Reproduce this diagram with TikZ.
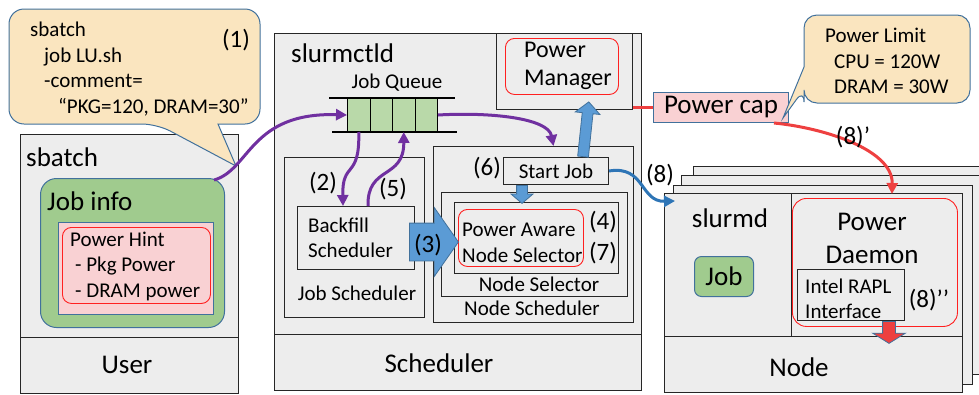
\documentclass[tikz,border=0pt]{standalone}
\usepackage{fontspec}
\setmainfont{Carlito}
\usetikzlibrary{arrows.meta,shapes.arrows}
\definecolor{boxgray}{HTML}{EDEDED}
\definecolor{jobgreen}{HTML}{A0CB8E}
\definecolor{queuegreen}{HTML}{B9D9A9}
\definecolor{hintpink}{HTML}{F9D1D3}
\definecolor{notetan}{HTML}{FAE5BF}
\definecolor{edgeblue}{HTML}{41719C}
\definecolor{arrowblue}{HTML}{5B9BD5}
\definecolor{linkblue}{HTML}{2E75B6}
\definecolor{flowpurple}{HTML}{7030A0}
\definecolor{capred}{HTML}{EE4040}
\definecolor{framered}{HTML}{FF2020}
\newcommand{\medtext}{\fontsize{21}{25.5}\selectfont}
\newcommand{\bigtext}{\fontsize{27}{33}\selectfont}
\newcommand{\mgrtext}{\fontsize{24}{28}\selectfont}
\newcommand{\steptext}{\fontsize{25}{28}\selectfont}

\begin{document}
\begin{tikzpicture}[x=1pt, y=-1pt,
        graybox/.style={draw=black!85, fill=boxgray, line width=1pt, inner sep=0pt, anchor=north west},
        redframe/.style={draw=framered, line width=0.9pt, rounded corners=9pt, inner sep=0pt, anchor=north west},
        greenbox/.style={draw=edgeblue, fill=jobgreen, line width=1pt, inner sep=0pt, anchor=north west},
        pinkbox/.style={draw=edgeblue, fill=hintpink, line width=1pt, inner sep=0pt, anchor=north west},
        qcell/.style={draw=black, fill=queuegreen, line width=1pt, minimum width=22.5pt, minimum height=33pt, inner sep=0pt, anchor=north west},
        notebox/.style={draw=edgeblue, fill=notetan, line width=1pt},
        txt/.style={inner sep=0pt, anchor=west, align=left, font=\medtext},
        steplbl/.style={inner sep=0pt, font=\steptext},
        purpleflow/.style={draw=flowpurple, line width=3pt, -{Triangle[length=11pt,width=11pt]}},
        blueflow/.style={draw=linkblue, line width=3pt, -{Triangle[length=11pt,width=11pt]}},
        redflow/.style={draw=capred, line width=3pt},
        blockarrow/.style={single arrow, draw=edgeblue, fill=arrowblue, line width=0.8pt, inner xsep=0pt, single arrow head indent=0pt, anchor=tail}]
    \useasboundingbox (0,0) rectangle (979,394);

    \node[graybox, minimum width=218pt, minimum height=203pt] (sbatchpart) at (20,134) {};
    \node[graybox, minimum width=218pt, minimum height=56pt] (userpart) at (20,337) {};
    \node[font=\bigtext] (usertxt) at (127,365) {User};
    \node[txt, font=\bigtext] (sbatchtxt) at (26,157) {sbatch};
    \node[greenbox, rounded corners=16pt, minimum width=184pt, minimum height=149pt] (jobinfo) at (40,178) {};
    \node[txt, font=\bigtext] (jobinfotxt) at (47,201) {Job info};
    \node[pinkbox, minimum width=155pt, minimum height=92pt] (hintbox) at (58,222) {};
    \node[redframe, minimum width=148pt, minimum height=76pt] (hint) at (62,227) {};
    \node[txt] (hinttxt) at (70,266) {Power Hint\\\hspace{5pt}- Pkg Power\\\hspace{5pt}- DRAM power};

    \draw[notebox] (157,124) -- (236,166) -- (218,124) [rounded corners=15pt] -- (260,124) -- (260,9) -- (9,9) -- (9,124) -- cycle;
    \node[txt] (cmdtxt) at (30,69) {sbatch\\\hspace{14pt}job LU.sh\\\hspace{14pt}-comment=\\\hspace{28pt}“PKG=120, DRAM=30”};
    \node[steplbl] (stepone) at (236,40) {(1)};

    \node[graybox, minimum width=367pt, minimum height=301pt] (ctldpart) at (274,33) {};
    \node[graybox, minimum width=367pt, minimum height=56pt] (schedpart) at (274,334) {};
    \node[font=\bigtext] (schedtxt) at (439,363) {Scheduler};
    \node[txt, font=\bigtext] (ctldtxt) at (291,53) {slurmctld};
    \node[graybox, minimum width=136pt, minimum height=76pt] (powermgr) at (496,33) {};
    \node[redframe, minimum width=113pt, minimum height=56pt] (pmframe) at (505,38) {};
    \node[txt, font=\mgrtext] (pmtxt) at (524,66) {Power\\Manager};
    \node[font=\medtext] (queuetxt) at (397,83) {Job Queue};
    \foreach \i in {0,...,3}
        \node[qcell] (cell\i) at (347+22.5*\i,98) {};
    \draw[line width=2.5pt] ([xshift=-18pt]cell0.north west) -- ([xshift=17pt]cell3.north east);
    \draw[line width=2.5pt] ([xshift=-15pt]cell0.south west) -- ([xshift=19pt]cell3.south east);

    \node[graybox, minimum width=140pt, minimum height=160pt] (jobsched) at (284,157) {};
    \node[font=\medtext] (jobschedtxt) at (357,293) {Job Scheduler};
    \node[graybox, minimum width=117pt, minimum height=63pt] (backfill) at (297,206) {};
    \node[txt] (backfilltxt) at (308,238) {Backfill\\Scheduler};
    \node[steplbl] (steptwo) at (323,183) {(2)};
    \node[steplbl] (stepfive) at (393,189) {(5)};
    \node[graybox, minimum width=200pt, minimum height=176pt] (nodesched) at (433,146) {};
    \node[font=\medtext] (nodeschedtxt) at (532,308) {Node Scheduler};
    \node[graybox, minimum width=186pt, minimum height=104pt] (nodesel) at (441,192) {};
    \node[font=\medtext] (nodeseltxt) at (539,284) {Node Selector};
    \node[graybox, minimum width=164pt, minimum height=71pt] (selinner) at (454,202) {};
    \node[redframe, minimum width=125pt, minimum height=57pt] (pasel) at (458,209) {};
    \node[txt] (paseltxt) at (462,243) {Power Aware\\Node Selector};
    \node[steplbl] (stepfour) at (603,222) {(4)};
    \node[steplbl] (stepseven) at (603,253) {(7)};
    \node[graybox, minimum width=105pt, minimum height=27pt, font=\medtext] (startjob) at (503,157) {Start Job};
    \node[steplbl] (stepsix) at (487,168) {(6)};

    \foreach \i/\dx/\dy in {1/29/-27, 2/17/-18, 3/9/-8}
        \node[graybox, minimum width=299pt, minimum height=199pt] (sheet\i) at (664+\dx,193+\dy) {};
    \node[graybox, minimum width=127pt, minimum height=143pt] (slurmdpart) at (664,193) {};
    \node[graybox, minimum width=171pt, minimum height=143pt] (daemonpart) at (791,193) {};
    \node[graybox, minimum width=298pt, minimum height=56pt] (nodepart) at (664,336) {};
    \node[font=\bigtext] (nodetxt) at (799,367) {Node};
    \node[font=\bigtext] (slurmdtxt) at (730,218) {slurmd};
    \node[greenbox, rounded corners=7pt, minimum width=59pt, minimum height=40pt, font=\bigtext] (jobnode) at (694,256) {Job};
    \node[redframe, rounded corners=14pt, minimum width=165pt, minimum height=128pt] (daemon) at (792,198) {};
    \node[font=\bigtext, align=center, inner sep=0pt] (daemontxt) at (872,238) {Power\\Daemon};
    \node[graybox, minimum width=107pt, minimum height=51pt] (rapl) at (797,269) {};
    \node[txt] (rapltxt) at (805,299) {Intel RAPL\\Interface};
    \node[steplbl] (stepeightb) at (929,300) {(8)’’};

    \node[pinkbox, minimum width=135pt, minimum height=30pt, font=\bigtext] (powercap) at (653,92) {Power cap};
    \draw[notebox] (804,89) -- (783,118) -- (804,67) [rounded corners=13pt] -- (804,15) -- (970,15) -- (970,103) -- (804,103) -- cycle;
    \node[txt] (limittxt) at (825,61) {Power Limit\\\hspace{9pt}CPU = 120W\\\hspace{9pt}DRAM = 30W};

    \node[blockarrow, minimum height=49pt, inner ysep=18.5pt, single arrow head extend=15.5pt, single arrow tip angle=110] (steparrow) at ([xshift=-6pt,yshift=-4pt]backfill.east) {};
    \node[steplbl] (stepthree) at (428,245) {(3)};
    \node[blockarrow, rotate=-90, minimum height=18pt, inner ysep=5pt, single arrow head extend=5.5pt, single arrow tip angle=99] (toselect) at ([xshift=-34pt]startjob.south) {};
    \node[blockarrow, rotate=84, minimum height=55pt, inner ysep=5pt, single arrow head extend=7pt, single arrow tip angle=95] (tomgr) at ([xshift=27pt]startjob.north) {};
    \node[blockarrow, fill=capred, rotate=-90, minimum height=22pt, inner ysep=6pt, single arrow head extend=10pt, single arrow tip angle=116] (toboard) at ([xshift=-16pt]rapl.south east) {};

    \draw[purpleflow] ([xshift=-11pt,yshift=-2pt]jobinfo.north east) .. controls (250,170) and (250,112) .. (cell0.west);
    \draw[purpleflow] (cell3.east) .. controls (490,112) and (548,118) .. ([xshift=20pt]nodesched.north);
    \draw[purpleflow] (cell0.south) .. controls (360,180) and (342,160) .. ([xshift=46pt]backfill.north west);
    \draw[purpleflow] ([xshift=71pt]backfill.north west) .. controls (367,165) and (404,180) .. (cell2.south);
    \draw[blueflow] (startjob.east) .. controls (645,165) and (640,202) .. ([xshift=11pt,yshift=-8pt]slurmdpart.north west);
    \draw[redflow] (powercap.west -| powermgr.east) -- (powercap.west);
    \draw[redflow, -{Triangle[length=11pt,width=11pt]}] ([xshift=-15pt]powercap.south east) .. controls (825,128) and (893,150) .. ([xshift=17pt,yshift=4pt]daemon.north);
    \node[steplbl] (stepeight) at (660,175) {(8)};
    \node[steplbl] (stepeighta) at (853,137) {(8)’};
\end{tikzpicture}
\end{document}
